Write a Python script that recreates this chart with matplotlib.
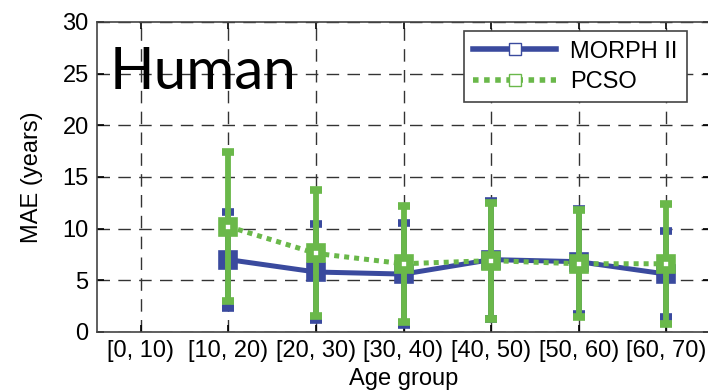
import matplotlib.pyplot as plt
import numpy as np
from matplotlib.lines import Line2D

groups = ['[0, 10)', '[10, 20)', '[20, 30)', '[30, 40)', '[40, 50)', '[50, 60)', '[60, 70)']
morph_mae = [7.0, 5.8, 5.6, 7.0, 6.8, 5.6]
morph_std = [4.65, 4.65, 4.9, 5.7, 5.1, 4.2]
pcso_mae = [10.2, 7.6, 6.6, 6.9, 6.6, 6.6]
pcso_std = [7.25, 6.1, 5.6, 5.6, 5.2, 5.8]

blue = '#3a4a9e'
green = '#6ab84a'

plt.rcParams['font.family'] = ['Liberation Sans', 'DejaVu Sans']

fig = plt.figure(figsize=(7.08, 3.91), dpi=100)
ax = fig.add_axes([0.137, 0.151, 0.866, 0.793])

x = np.arange(2, len(groups) + 1)

ax.errorbar(x, morph_mae, yerr=morph_std, color=blue, lw=3.6, elinewidth=4.2,
            capsize=4.5, capthick=3.6, marker='s', ms=8.5, mfc='white', mec=blue,
            mew=5.5, label='MORPH II', zorder=3)
ax.errorbar(x, pcso_mae, yerr=pcso_std, color=green, lw=3.6, ls=(0, (1.0, 1.0)),
            elinewidth=4.2, capsize=4.5, capthick=3.6, marker='s', ms=8.5,
            mfc='white', mec=green, mew=5.5, label='PCSO', zorder=4)

ax.set_xlim(0.5, len(groups) + 0.5)
ax.set_ylim(0, 30)
ax.set_xticks(np.arange(1, len(groups) + 1))
ax.set_xticklabels(groups)
ax.set_yticks(np.arange(0, 31, 5))
ax.tick_params(direction='in', top=True, right=True, labelsize=17, length=5,
               width=1.2, pad=6)
ax.grid(True, color='#333333', ls=(0, (9, 6)), lw=1.0)
ax.set_axisbelow(True)
ax.set_xlabel('Age group', fontsize=17, labelpad=4)
ax.set_ylabel('MAE (years)', fontsize=17, labelpad=14)
for s in ax.spines.values():
    s.set_color('#444444')
    s.set_linewidth(1.2)

ax.text(0.64, 25.1, 'Human', fontsize=42, family=['Lato', 'DejaVu Sans'],
        va='center', ha='left')

handles = [
    Line2D([], [], color=blue, lw=4, marker='s', ms=9, mfc='white', mec=blue, mew=1),
    Line2D([], [], color=green, lw=4, ls=(0, (1.0, 1.0)), marker='s', ms=9,
           mfc='white', mec=green, mew=1),
]
leg = ax.legend(handles, ['MORPH II', 'PCSO'], loc='upper right',
                bbox_to_anchor=(0.962, 0.97), fontsize=17, handlelength=3.5,
                fancybox=False, framealpha=1, edgecolor='#444444',
                borderpad=0.4, labelspacing=0.35, handletextpad=0.6,
                borderaxespad=0)
leg.get_frame().set_linewidth(1.2)

fig.savefig('out.png', dpi=100)
